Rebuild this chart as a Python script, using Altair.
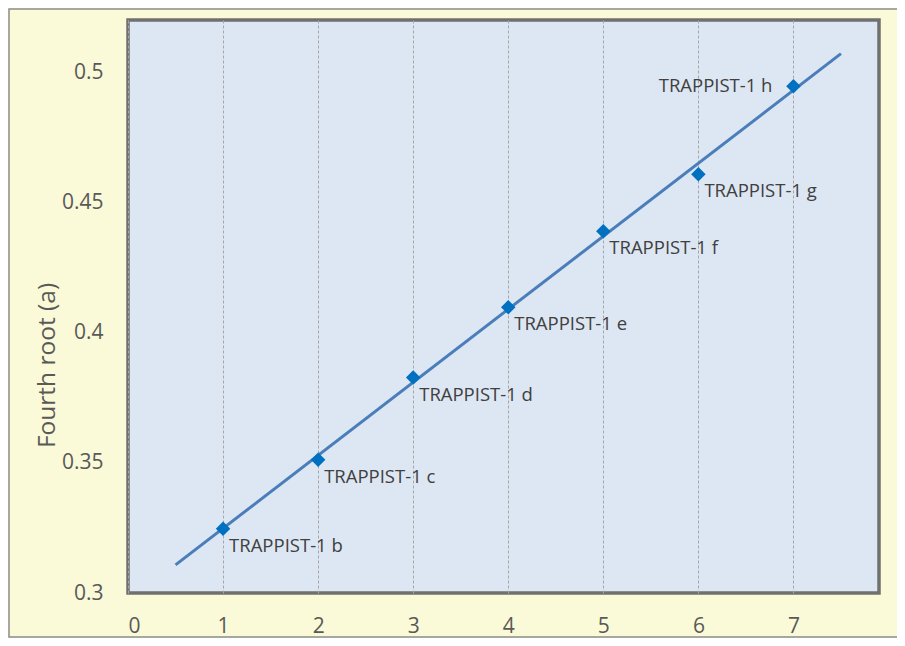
import altair as alt
import pandas as pd

# ---- data ----
planets = ["TRAPPIST-1 b", "TRAPPIST-1 c", "TRAPPIST-1 d", "TRAPPIST-1 e",
           "TRAPPIST-1 f", "TRAPPIST-1 g", "TRAPPIST-1 h"]
planet_index = [1, 2, 3, 4, 5, 6, 7]
fourth_root_a = [0.3247, 0.3512, 0.3827, 0.4097, 0.4389, 0.4608, 0.4946]
x_ticks = [0, 1, 2, 3, 4, 5, 6, 7]
y_ticks = [0.3, 0.35, 0.4, 0.45, 0.5]

df = pd.DataFrame({"n": planet_index, "r": fourth_root_a, "name": planets})

W, H = 751, 573
FONT = "Open Sans"
GREY = "#595959"

x_scale = alt.Scale(domain=[0, 7.9], nice=False, zero=False)
y_scale = alt.Scale(domain=[0.3, 0.52], nice=False, zero=False)

x_axis = alt.Axis(values=x_ticks, format="d", grid=True, gridDash=[3, 2],
                  gridColor="#A6A6A6", gridWidth=1, domain=False, ticks=False,
                  tickSize=0, labelFont=FONT, labelFontSize=21, labelColor=GREY,
                  labelPadding=22, title=None)
y_axis = alt.Axis(values=y_ticks, format="~g", grid=False, domain=False,
                  ticks=False, tickSize=0, labelFont=FONT, labelFontSize=21,
                  labelColor=GREY, labelPadding=25, title="Fourth root (a)",
                  titleFont=FONT, titleFontSize=24.5, titleFontWeight="normal",
                  titleColor=GREY, titleX=-81, titleY=345, titleAngle=270,
                  titleAlign="center", titleBaseline="middle")

base = alt.Chart(df)

frame = base.transform_filter("datum.n == 1").mark_rect(
    filled=False, stroke="#8C8C8C", strokeWidth=1.5
).encode(x=alt.value(-119), x2=alt.value(W + 60), y=alt.value(-11), y2=alt.value(H + 44))

trend = base.transform_regression("n", "r", extent=[0.5, 7.5]).mark_line(
    color="#4A7EBB", strokeWidth=3
).encode(x=alt.X("n:Q", scale=x_scale, axis=x_axis),
         y=alt.Y("r:Q", scale=y_scale, axis=y_axis))

points = base.mark_point(shape="diamond", filled=True, size=210,
                         color="#0070C0", opacity=1).encode(
    x=alt.X("n:Q", scale=x_scale), y=alt.Y("r:Q", scale=y_scale))

labels_below = base.transform_filter("datum.name != 'TRAPPIST-1 h'").mark_text(
    align="left", baseline="middle", dx=6, dy=17, font=FONT, fontSize=18.5,
    color="#404040").encode(x=alt.X("n:Q", scale=x_scale),
                            y=alt.Y("r:Q", scale=y_scale), text="name:N")

labels_left = base.transform_filter("datum.name == 'TRAPPIST-1 h'").mark_text(
    align="right", baseline="middle", dx=-21, dy=0, font=FONT, fontSize=18.5,
    color="#404040").encode(x=alt.X("n:Q", scale=x_scale),
                            y=alt.Y("r:Q", scale=y_scale), text="name:N")

chart = alt.layer(trend, points, labels_below, labels_left, frame).properties(
    width=W, height=H,
    autosize=alt.AutoSizeParams(type="none"),
    padding={"left": 120, "top": 12, "right": 18, "bottom": 45},
    background="#FAFAD8",
).configure_view(fill="#DDE7F3", stroke="#707070", strokeWidth=3.5)

chart.save("out.html", embed_options={"renderer": "svg", "actions": False})
